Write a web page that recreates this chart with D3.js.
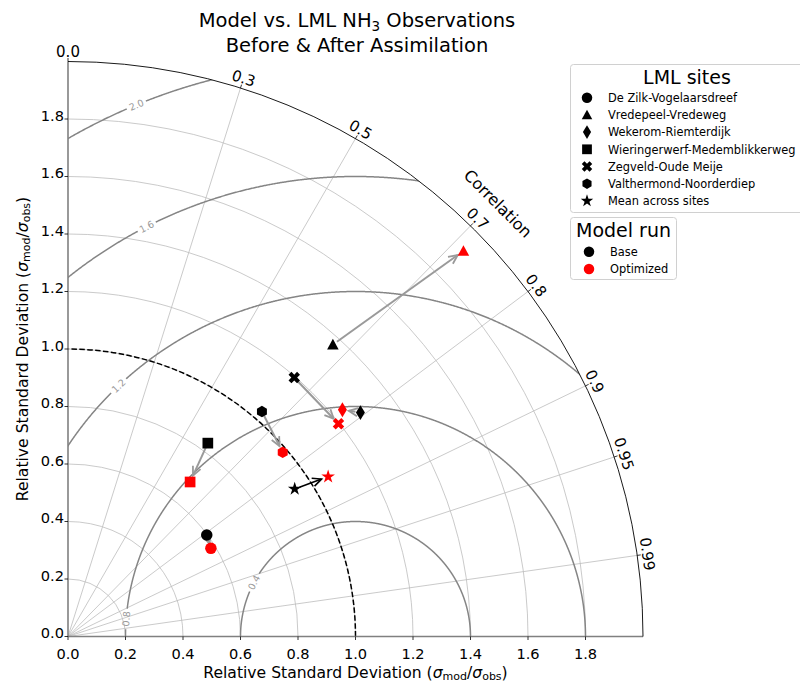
<!DOCTYPE html>
<html lang="en">
<head>
<meta charset="UTF-8">
<title>Taylor diagram - LML NH3</title>
<script src="https://d3js.org/d3.v7.min.js"></script>
<style>
    body { margin: 0; background: #fff; }
    svg { font-family: "DejaVu Sans", sans-serif; display: block; }
</style>
</head>
<body>
<div id="chart"></div>
<script>
    // ---- data ----
    const sites = ["De Zilk-Vogelaarsdreef", "Vredepeel-Vredeweg", "Wekerom-Riemterdijk",
        "Wieringerwerf-Medemblikkerweg", "Zegveld-Oude Meije", "Valthermond-Noorderdiep",
        "Mean across sites"];
    const baseStd  = [0.598, 1.371, 1.281, 0.830, 1.196, 1.033, 0.941];
    const baseCorr = [0.807, 0.672, 0.794, 0.586, 0.658, 0.653, 0.838];
    const optStd   = [0.584, 1.921, 1.238, 0.685, 1.197, 0.984, 1.062];
    const optCorr  = [0.851, 0.716, 0.771, 0.620, 0.786, 0.759, 0.852];
    const runs = ["Base", "Optimized"];

    const stdTicks = [0.0, 0.2, 0.4, 0.6, 0.8, 1.0, 1.2, 1.4, 1.6, 1.8];
    const corrTicks = [0.0, 0.3, 0.5, 0.7, 0.8, 0.9, 0.95, 0.99];
    const rmsLevels = [0.4, 0.8, 1.2, 1.6, 2.0];

    // styles
    const markerShapes = ["circle", "triangle", "thinDiamond", "square", "x", "hexagon", "star"];
    const runColors = ["#000000", "#ff0000"];
    // angle (deg, around the (1,0) point) where each RMS contour carries its label
    const rmsLabelAngle = { 0.4: 152, 0.8: 175.6, 1.2: 133.4, 1.6: 117, 2.0: 112.4 };

    const width = 800, height = 683;
    const maxStd = 2.0;

    const x = d3.scaleLinear().domain([0, maxStd]).range([68, 643]);
    const y = d3.scaleLinear().domain([0, maxStd]).range([636.5, 61.5]);
    const pxPerUnit = x(1) - x(0);
    const ox = x(0), oy = y(0);

    const svg = d3.select("#chart").append("svg")
        .attr("width", width)
        .attr("height", height);

    function polar(std, corr) {
        const th = Math.acos(corr);
        return [x(std * Math.cos(th)), y(std * Math.sin(th))];
    }

    function quarterArc(r) {
        const p = d3.path();
        const rp = r * pxPerUnit;
        p.moveTo(ox + rp, oy);
        p.arc(ox, oy, rp, 0, -Math.PI / 2, true);
        return p.toString();
    }

    // clip to the quarter disc
    const clipPath = d3.path();
    clipPath.moveTo(ox, oy);
    clipPath.lineTo(x(maxStd), oy);
    clipPath.arc(ox, oy, maxStd * pxPerUnit, 0, -Math.PI / 2, true);
    clipPath.closePath();
    svg.append("clipPath").attr("id", "quarter")
        .append("path").attr("d", clipPath.toString());

    const grid = svg.append("g");

    // std grid arcs
    grid.selectAll(".sgrid")
        .data(stdTicks.filter(d => d > 0))
        .join("path")
        .attr("d", d => quarterArc(d))
        .attr("fill", "none")
        .attr("stroke", "#bdbdbd")
        .attr("stroke-width", 0.8);

    // correlation radial grid lines
    grid.selectAll(".cgrid")
        .data(corrTicks.filter(d => d > 0))
        .join("line")
        .attr("x1", ox).attr("y1", oy)
        .attr("x2", d => polar(maxStd, d)[0])
        .attr("y2", d => polar(maxStd, d)[1])
        .attr("stroke", "#bdbdbd")
        .attr("stroke-width", 0.8);

    // centered RMS contours (circles around the reference point)
    const line = d3.line().x(d => x(d[0])).y(d => y(d[1]));
    const contours = svg.append("g").attr("clip-path", "url(#quarter)");
    const labels = svg.append("g");
    rmsLevels.forEach(r => {
        const la = rmsLabelAngle[r] * Math.PI / 180;
        const gap = 10 / (r * pxPerUnit);
        const segs = [];
        let cur = [];
        for (let t = 0; t <= Math.PI + 1e-9; t += 0.002) {
            if (Math.abs(t - la) < gap) {
                if (cur.length) { segs.push(cur); cur = []; }
                continue;
            }
            cur.push([1 + r * Math.cos(t), r * Math.sin(t)]);
        }
        if (cur.length) segs.push(cur);
        segs.forEach(s => {
            contours.append("path")
                .attr("d", line(s))
                .attr("fill", "none")
                .attr("stroke", "#858585")
                .attr("stroke-width", 1.5);
        });
        const lx = x(1 + r * Math.cos(la)), ly = y(r * Math.sin(la));
        // text direction along the tangent, reading left to right
        let tx = Math.sin(la), ty = -Math.cos(la);
        if (tx < 0) { tx = -tx; ty = -ty; }
        const rot = Math.atan2(-ty, tx) * 180 / Math.PI;
        labels.append("text")
            .attr("transform", `translate(${lx},${ly}) rotate(${rot})`)
            .attr("text-anchor", "middle")
            .attr("dominant-baseline", "central")
            .attr("font-size", 9.5)
            .attr("fill", "#999")
            .text(r.toFixed(1));
    });

    // reference std (dashed)
    svg.append("path")
        .attr("d", quarterArc(1))
        .attr("fill", "none")
        .attr("stroke", "#000")
        .attr("stroke-width", 1.5)
        .attr("stroke-dasharray", "5.5,2.4");

    // axes
    svg.append("line")
        .attr("x1", ox).attr("y1", oy).attr("x2", ox).attr("y2", y(maxStd))
        .attr("stroke", "#808080").attr("stroke-width", 1.6);
    svg.append("line")
        .attr("x1", ox).attr("y1", oy).attr("x2", x(maxStd)).attr("y2", oy)
        .attr("stroke", "#808080").attr("stroke-width", 1.6);
    svg.append("path")
        .attr("d", quarterArc(maxStd))
        .attr("fill", "none")
        .attr("stroke", "#000")
        .attr("stroke-width", 0.9);

    // std ticks + labels
    const ticks = svg.append("g").attr("font-size", 14.6).attr("fill", "#000");
    stdTicks.forEach(v => {
        ticks.append("line")
            .attr("x1", x(v)).attr("x2", x(v)).attr("y1", oy).attr("y2", oy + 3.5)
            .attr("stroke", "#000").attr("stroke-width", 0.8);
        ticks.append("text")
            .attr("x", x(v)).attr("y", 658.5)
            .attr("text-anchor", "middle")
            .text(v.toFixed(1));
        ticks.append("line")
            .attr("x1", ox - 3.5).attr("x2", ox).attr("y1", y(v)).attr("y2", y(v))
            .attr("stroke", "#000").attr("stroke-width", 0.8);
        ticks.append("text")
            .attr("x", ox - 4).attr("y", y(v) + 1.5)
            .attr("text-anchor", "end")
            .text(v.toFixed(1));
    });

    // correlation ticks + labels
    corrTicks.forEach(c => {
        const a = Math.acos(c);
        const r0 = maxStd * pxPerUnit;
        ticks.append("line")
            .attr("x1", ox + r0 * Math.cos(a)).attr("y1", oy - r0 * Math.sin(a))
            .attr("x2", ox + (r0 + 3.5) * Math.cos(a)).attr("y2", oy - (r0 + 3.5) * Math.sin(a))
            .attr("stroke", "#000").attr("stroke-width", 0.8);
        const rl = r0 + 10;
        ticks.append("text")
            .attr("transform", `translate(${ox + rl * Math.cos(a)},${oy - rl * Math.sin(a)}) rotate(${90 - a * 180 / Math.PI})`)
            .attr("text-anchor", "middle")
            .attr("dominant-baseline", "central")
            .attr("font-size", 15)
            .text(c === 0 ? "0.0" : String(c));
    });
    {
        const a = 45.2 * Math.PI / 180, rl = 610;
        svg.append("text")
            .attr("transform", `translate(${ox + rl * Math.cos(a)},${oy - rl * Math.sin(a)}) rotate(45)`)
            .attr("text-anchor", "middle")
            .attr("dominant-baseline", "central")
            .attr("font-size", 16)
            .text("Correlation");
    }

    // marker shapes
    function shapePath(name, d) {
        const h = d / 2;
        switch (name) {
            case "circle": return d3.symbol(d3.symbolCircle, Math.PI * h * h)();
            case "square": return `M${-h * 0.93},${-h * 0.93}H${h * 0.93}V${h * 0.93}H${-h * 0.93}Z`;
            case "triangle": return `M0,${-h}L${h},${h * 0.85}L${-h},${h * 0.85}Z`;
            case "thinDiamond": return `M0,${-h * 1.3}L${h * 0.78},0L0,${h * 1.3}L${-h * 0.78},0Z`;
            case "x": {
                const t = h * 0.36, s = h * 1.05;
                const pts = [[t, -s], [t, -t], [s, -t], [s, t], [t, t], [t, s], [-t, s], [-t, t], [-s, t], [-s, -t], [-t, -t], [-t, -s]];
                const c = Math.SQRT1_2;
                return "M" + pts.map(([px, py]) => [(px - py) * c, (px + py) * c].join(",")).join("L") + "Z";
            }
            case "hexagon": {
                const pts = d3.range(6).map(k => {
                    const a = (-90 + 60 * k) * Math.PI / 180;
                    return [h * Math.cos(a), h * Math.sin(a)];
                });
                return "M" + pts.join("L") + "Z";
            }
            case "star": {
                const R = h * 1.25, r = R * 0.382;
                const pts = d3.range(10).map(k => {
                    const a = (-90 + 36 * k) * Math.PI / 180;
                    const rr = k % 2 ? r : R;
                    return [rr * Math.cos(a), rr * Math.sin(a)];
                });
                return "M" + pts.join("L") + "Z";
            }
        }
    }

    // arrows base -> optimized
    const arrows = svg.append("g");
    sites.forEach((s, i) => {
        const p0 = polar(baseStd[i], baseCorr[i]);
        const p1 = polar(optStd[i], optCorr[i]);
        const dx = p1[0] - p0[0], dy = p1[1] - p0[1];
        const L = Math.hypot(dx, dy);
        const ux = dx / L, uy = dy / L;
        const s0 = Math.min(5, L * 0.3), s1 = Math.min(7, L * 0.35);
        const a = [p0[0] + ux * s0, p0[1] + uy * s0];
        const b = [p1[0] - ux * s1, p1[1] - uy * s1];
        const isMean = i === sites.length - 1;
        const col = isMean ? "#000" : "#9a9a9a";
        const hl = 9, hw = 4.2;
        const back = [b[0] - ux * hl, b[1] - uy * hl];
        const h1 = [back[0] - uy * hw, back[1] + ux * hw];
        const h2 = [back[0] + uy * hw, back[1] - ux * hw];
        arrows.append("line")
            .attr("x1", a[0]).attr("y1", a[1]).attr("x2", b[0]).attr("y2", b[1])
            .attr("stroke", col).attr("stroke-width", isMean ? 1.6 : 2);
        arrows.append("path")
            .attr("d", `M${h1}L${b}L${h2}`)
            .attr("fill", "none")
            .attr("stroke", col).attr("stroke-width", isMean ? 1.6 : 1.8);
    });

    // markers
    const marks = svg.append("g");
    [[baseStd, baseCorr], [optStd, optCorr]].forEach(([st, co], k) => {
        sites.forEach((s, i) => {
            const p = polar(st[i], co[i]);
            marks.append("path")
                .attr("transform", `translate(${p[0]},${p[1]})`)
                .attr("d", shapePath(markerShapes[i], 11.5))
                .attr("fill", runColors[k]);
        });
    });

    // titles
    const title = svg.append("text")
        .attr("x", 357).attr("y", 27)
        .attr("text-anchor", "middle")
        .attr("font-size", 19.5);
    title.append("tspan").text("Model vs. LML NH");
    title.append("tspan").attr("font-size", 13.5).attr("dy", 4).text("3");
    title.append("tspan").attr("dy", -4).text(" Observations");
    svg.append("text")
        .attr("x", 357).attr("y", 52)
        .attr("text-anchor", "middle")
        .attr("font-size", 19.5)
        .text("Before & After Assimilation");

    function sigmaLabel(sel) {
        sel.append("tspan").text("Relative Standard Deviation (");
        sel.append("tspan").attr("font-style", "italic").text("σ");
        sel.append("tspan").attr("font-size", 11).attr("dy", 2).text("mod");
        sel.append("tspan").attr("dy", -2).text("/");
        sel.append("tspan").attr("font-style", "italic").text("σ");
        sel.append("tspan").attr("font-size", 11).attr("dy", 2).text("obs");
        sel.append("tspan").attr("dy", -2).text(")");
    }
    svg.append("text")
        .attr("x", (x(0) + x(maxStd)) / 2).attr("y", 677.5)
        .attr("text-anchor", "middle")
        .attr("font-size", 15.6)
        .call(sigmaLabel);
    svg.append("text")
        .attr("transform", `translate(28,${(y(0) + y(maxStd)) / 2}) rotate(-90)`)
        .attr("text-anchor", "middle")
        .attr("font-size", 15.6)
        .call(sigmaLabel);

    // legends
    const leg1 = svg.append("g");
    leg1.append("rect")
        .attr("x", 570.5).attr("y", 64.5).attr("width", 245).attr("height", 148)
        .attr("rx", 3).attr("fill", "#fff").attr("stroke", "#d0d0d0");
    leg1.append("text")
        .attr("x", 687).attr("y", 84).attr("text-anchor", "middle")
        .attr("font-size", 19).text("LML sites");
    sites.forEach((s, i) => {
        const cy = 97.7 + i * 17.2;
        leg1.append("path")
            .attr("transform", `translate(587,${cy})`)
            .attr("d", shapePath(markerShapes[i], 10.5))
            .attr("fill", "#000");
        leg1.append("text")
            .attr("x", 608).attr("y", cy + 4.2)
            .attr("font-size", 11.4).text(s);
    });

    const leg2 = svg.append("g");
    leg2.append("rect")
        .attr("x", 570.5).attr("y", 217.5).attr("width", 106).attr("height", 62)
        .attr("rx", 3).attr("fill", "#fff").attr("stroke", "#d0d0d0");
    leg2.append("text")
        .attr("x", 623.5).attr("y", 237).attr("text-anchor", "middle")
        .attr("font-size", 19).text("Model run");
    runs.forEach((r, k) => {
        const cy = 251.7 + k * 17.3;
        leg2.append("path")
            .attr("transform", `translate(589,${cy})`)
            .attr("d", shapePath("circle", 10.5))
            .attr("fill", runColors[k]);
        leg2.append("text")
            .attr("x", 610).attr("y", cy + 4.2)
            .attr("font-size", 11.4).text(r);
    });
</script>
</body>
</html>
